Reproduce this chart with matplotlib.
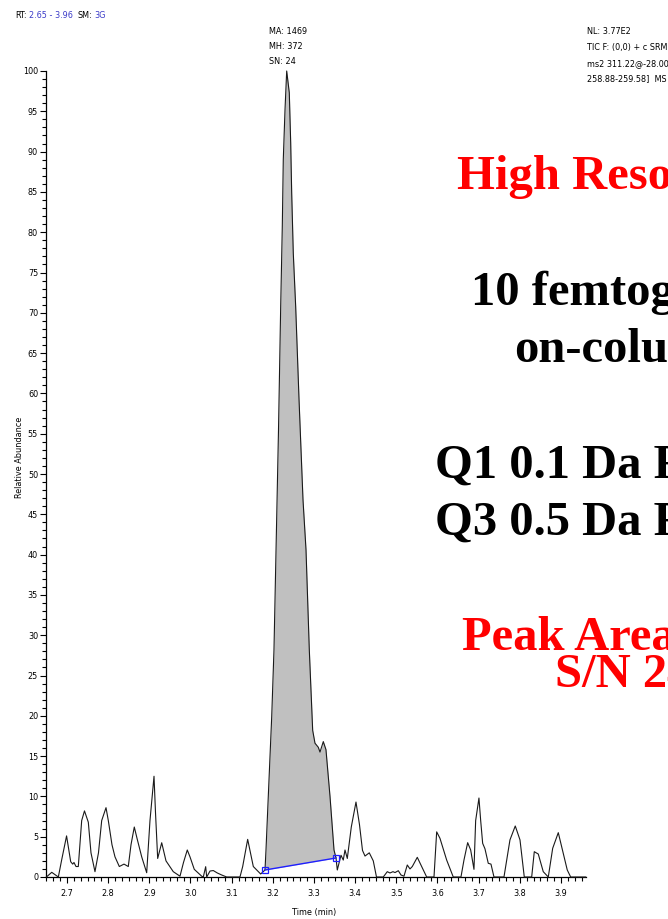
import numpy as np
import matplotlib
matplotlib.use("Agg")
import matplotlib.pyplot as plt
from matplotlib import font_manager as fm
from matplotlib.ticker import MultipleLocator, FormatStrFormatter

# Chromatogram trace: retention time (min) and relative abundance (%)
rt_min = [
    2.650, 2.663, 2.679, 2.687, 2.699, 2.7090, 2.7139, 2.7170, 2.7219, 2.7275,
    2.7357, 2.7425, 2.7518, 2.7583, 2.7680, 2.7765, 2.7843, 2.7948, 2.8004, 2.8093,
    2.8166, 2.8271, 2.8385, 2.8489, 2.8555, 2.8635, 2.8701, 2.8815, 2.8936, 2.9016,
    2.9114, 2.9150, 2.9203, 2.9301, 2.9405, 2.9582, 2.9745, 2.9830, 2.9922, 2.9988,
    3.0092, 3.0272, 3.0311, 3.0369, 3.0394, 3.0474, 3.0554, 3.0651, 3.0758, 3.0879,
    3.1202, 3.1268, 3.1389, 3.1526, 3.1705, 3.1810, 3.1834, 3.1973, 3.2028, 3.2077,
    3.2138, 3.2191, 3.2230, 3.2254, 3.2296, 3.2337, 3.2400, 3.2434, 3.2458, 3.2497,
    3.2555, 3.2636, 3.2733, 3.2806, 3.2886, 3.2968, 3.3024, 3.3104, 3.3146, 3.3226,
    3.3291, 3.3389, 3.3486, 3.3535, 3.3566, 3.3656, 3.3711, 3.3753, 3.3809, 3.3906,
    3.4020, 3.4105, 3.4178, 3.4239, 3.4343, 3.4440, 3.4518, 3.4683, 3.4780, 3.4846,
    3.4919, 3.4968, 3.5048, 3.5113, 3.5186, 3.5266, 3.5332, 3.5388, 3.5509, 3.5616,
    3.5737, 3.5915, 3.5980, 3.6060, 3.6223, 3.6383, 3.6570, 3.6643, 3.6733, 3.6806,
    3.6886, 3.6927, 3.7007, 3.7049, 3.7097, 3.7153, 3.7233, 3.7299, 3.7372, 3.7615,
    3.7760, 3.7889, 3.8004, 3.8108, 3.8288, 3.8351, 3.8448, 3.8569, 3.8691, 3.8798,
    3.8934, 3.9055, 3.9152, 3.9235, 3.9600,
]
rel_abundance = [
    0.0, 0.58, 0.0, 2.1, 5.1, 1.9, 1.6, 1.8, 1.3, 1.3,
    7.0, 8.2, 6.8, 3.0, 0.66, 3.0, 7.0, 8.6, 7.0, 4.0,
    2.5, 1.3, 1.6, 1.3, 4.0, 6.2, 4.8, 2.5, 0.53, 7.0,
    12.5, 8.0, 2.3, 4.25, 2.0, 0.66, 0.1, 1.8, 3.35, 2.5,
    0.95, 0.1, 0.0, 1.28, 0.0, 0.74, 0.8, 0.5, 0.25, 0.0,
    0.0, 1.3, 4.67, 1.3, 0.37, 0.87, 3.35, 19.9, 28.2, 40.6,
    55.5, 70.8, 80.7, 89.0, 95.2, 100.0, 97.3, 91.1, 84.9, 77.4,
    70.8, 59.3, 46.8, 40.6, 28.2, 18.2, 16.6, 16.1, 15.5, 16.8,
    15.8, 10.0, 3.35, 2.36, 0.87, 2.7, 2.1, 3.35, 2.3, 6.2,
    9.3, 6.5, 3.3, 2.6, 3.0, 2.0, 0.0, 0.0, 0.66, 0.5,
    0.66, 0.55, 0.78, 0.25, 0.1, 1.49, 1.0, 1.3, 2.44, 1.3,
    0.0, 0.0, 5.6, 4.8, 2.1, 0.0, 0.0, 2.1, 4.26, 3.35,
    0.95, 7.0, 9.8, 7.0, 4.18, 3.5, 1.7, 1.6, 0.0, 0.0,
    4.6, 6.33, 4.6, 0.0, 0.0, 3.14, 2.85, 0.66, 0.0, 3.56,
    5.5, 2.94, 0.87, 0.0, 0.0,
]

# Integrated peak: baseline start / end points (time, abundance)
peak_start = (3.1810, 0.87)
peak_end = (3.3535, 2.36)

x_range = (2.65, 3.96)
x_major = [2.7, 2.8, 2.9, 3.0, 3.1, 3.2, 3.3, 3.4, 3.5, 3.6, 3.7, 3.8, 3.9]
y_major = [0, 5, 10, 15, 20, 25, 30, 35, 40, 45, 50,
           55, 60, 65, 70, 75, 80, 85, 90, 95, 100]

header_parts = [("RT:", "black"), ("2.65 - 3.96", "#3a3ac8"),
                ("SM:", "black"), ("3G", "#3a3ac8")]
peak_labels = ["MA: 1469", "MH: 372", "SN: 24"]
scan_info = ["NL: 3.77E2", "TIC F: (0,0) + c SRM",
             "ms2 311.22@-28.00 [", "258.88-259.58]  MS"]
slide_lines = [
    ("High Resolution", "red"),
    ("10 femtograms", "black"),
    ("on-column", "black"),
    ("Q1 0.1 Da FWHM", "black"),
    ("Q3 0.5 Da FWHM", "black"),
    ("Peak Area 1469", "red"),
    ("S/N 24", "red"),
]

W, H = 668, 919


def narrow_sans():
    """Look for an installed condensed sans-serif face."""
    for f in fm.fontManager.ttflist:
        name = f.name
        condensed = (str(f.stretch) in ("condensed", "semi-condensed",
                                        "extra-condensed")
                     or "Narrow" in name or "Condensed" in name)
        if not condensed or "Mono" in name or "Serif" in name:
            continue
        if f.style != "normal" or f.weight not in (400, "normal", "regular",
                                                   "book"):
            continue
        return f
    return None


entry = narrow_sans()
if entry is not None:
    plt.rcParams["font.family"] = [entry.name, "DejaVu Sans"]
    plt.rcParams["font.stretch"] = entry.stretch
    small_size = 6.5
else:
    plt.rcParams["font.family"] = ["Liberation Sans", "DejaVu Sans"]
    small_size = 6.0

fig = plt.figure(figsize=(W / 100, H / 100), dpi=100)
ax = fig.add_axes([46.4 / W, (H - 877) / H, 539.3 / W, 806 / H])

t = np.array(rt_min)
y = np.array(rel_abundance)

# grey integrated area between trace and baseline
t0, i0 = peak_start
t1, i1 = peak_end
m = (t >= t0 - 1e-9) & (t <= t1 + 1e-9)
base = np.interp(t[m], [t0, t1], [i0, i1])
ax.fill_between(t[m], base, y[m], color="#c0c0c0", lw=0, zorder=1)

ax.plot(t, y, color="#1a1a1a", lw=0.8, zorder=3, clip_on=False)
ax.plot([t0, t1], [i0, i1], color="#1f1fff", lw=1.0, zorder=4,
        marker="s", ms=5, mfc="none", mec="#1f1fff", mew=0.9, clip_on=False)

ax.set_xlim(*x_range)
ax.set_ylim(0, 100)
for s in ("top", "right"):
    ax.spines[s].set_visible(False)
for s in ("left", "bottom"):
    ax.spines[s].set_linewidth(0.9)

ax.set_xticks(x_major)
ax.set_yticks(y_major)
ax.xaxis.set_major_formatter(FormatStrFormatter("%.1f"))
ax.yaxis.set_major_formatter(FormatStrFormatter("%d"))
ax.xaxis.set_minor_locator(MultipleLocator(0.1 / 6))
ax.yaxis.set_minor_locator(MultipleLocator(1))
ax.tick_params(axis="both", which="major", length=4.5, width=0.8,
               labelsize=small_size, pad=1.5, direction="out")
ax.tick_params(axis="both", which="minor", length=3, width=0.8, direction="out")
ax.tick_params(axis="x", which="major", pad=4)

fig.text(20 / W, 1 - 457 / H, "Relative Abundance", rotation=90,
         ha="center", va="center", fontsize=small_size)
fig.text(314 / W, 1 - 913 / H, "Time (min)", ha="center", va="center",
         fontsize=small_size)


def px(x, yy):
    return x / W, 1 - yy / H


# header line, each piece placed right after the previous one
prev = fig.text(*px(15, 15), header_parts[0][0], color=header_parts[0][1],
                fontsize=small_size, ha="left", va="center")
for k, (txt, col) in enumerate(header_parts[1:], start=1):
    gap = 3.5 if k == 2 else 1.5
    prev = ax.annotate(txt, xy=(1, 0.5), xycoords=prev, xytext=(gap, 0),
                       textcoords="offset points", color=col,
                       fontsize=small_size, ha="left", va="center",
                       annotation_clip=False)

for k, txt in enumerate(peak_labels):
    fig.text(*px(269, 31 + 15.5 * k), txt, fontsize=small_size,
             ha="left", va="center")

for k, txt in enumerate(scan_info):
    fig.text(*px(587, 32 + 15.7 * k), txt, fontsize=small_size,
             ha="left", va="center")

# large slide annotation
serif = ["Liberation Serif", "DejaVu Serif"]
starts = [457, 471, 514, 435, 435, 462, 555]
baselines = [189, 305, 362, 478, 535, 650, 687]
for (txt, col), x0, b in zip(slide_lines, starts, baselines):
    fig.text(*px(x0, b), txt, color=col, fontsize=35, fontweight="bold",
             family=serif, stretch="normal", ha="left", va="baseline")

fig.savefig("out.png", dpi=100)
